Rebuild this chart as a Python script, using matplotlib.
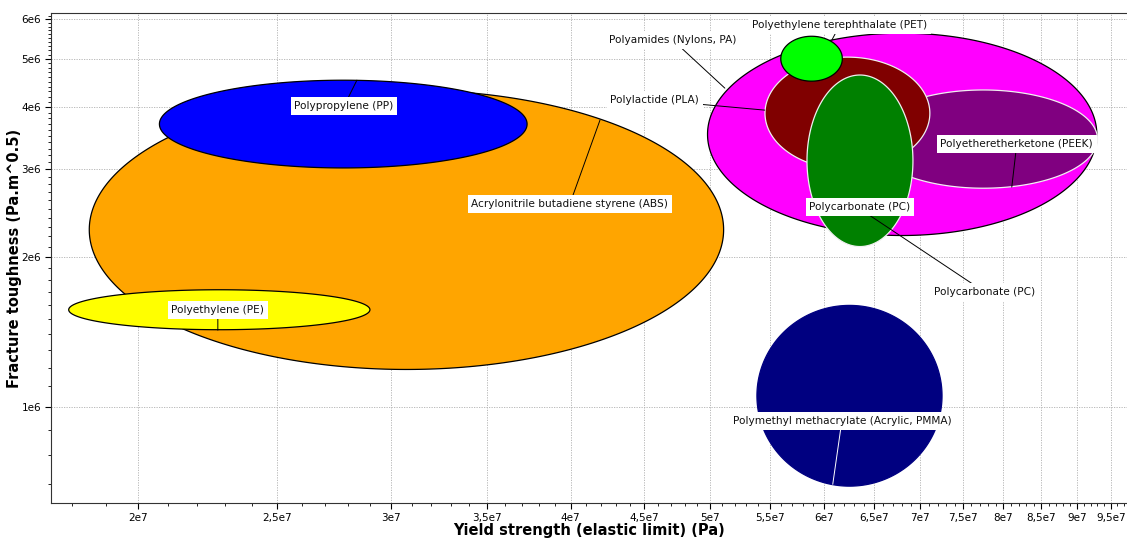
import numpy as np
import matplotlib
matplotlib.use('Agg')
import matplotlib.pyplot as plt
from matplotlib.ticker import FixedLocator, MultipleLocator, FuncFormatter, NullFormatter

# material property ranges (yield strength in Pa, fracture toughness in Pa.m^0.5)
materials = ['Acrylonitrile butadiene styrene (ABS)', 'Polypropylene (PP)', 'Polyethylene (PE)',
             'Polyamides (Nylons, PA)', 'Polyetheretherketone (PEEK)', 'Polylactide (PLA)',
             'Polycarbonate (PC)', 'Polyethylene terephthalate (PET)',
             'Polymethyl methacrylate (Acrylic, PMMA)']
yield_lo = [1.85e7, 2.07e7, 1.79e7, 4.98e7, 6.45e7, 5.46e7, 5.84e7, 5.60e7, 5.39e7]
yield_hi = [5.11e7, 3.73e7, 2.90e7, 9.29e7, 9.30e7, 7.11e7, 6.92e7, 6.18e7, 7.25e7]
tough_lo = [1.19e6, 3.02e6, 1.43e6, 2.21e6, 2.75e6, 3.00e6, 2.10e6, 4.51e6, 6.94e5]
tough_hi = [4.33e6, 4.53e6, 1.72e6, 5.63e6, 4.33e6, 5.04e6, 4.64e6, 5.55e6, 1.60e6]

x_ticks = [2e7, 2.5e7, 3e7, 3.5e7, 4e7, 4.5e7, 5e7, 5.5e7, 6e7, 6.5e7, 7e7, 7.5e7, 8e7, 8.5e7, 9e7, 9.5e7]
y_ticks = [1e6, 2e6, 3e6, 4e6, 5e6, 6e6]

# styles
fill_colors = ['#ffa500', '#0000ff', '#ffff00', '#ff00ff', '#800080', '#800000', '#008000', '#00ff00', '#000080']
edge_colors = ['black', 'black', 'black', 'black', '#f0f0f0', '#f0f0f0', '#f0f0f0', 'black', '#000080']

# label placement: (text, label position, anchor on ellipse or None, line colour)
labels = [
    ('Polypropylene (PP)', (2.782e7, 4.018e6), (2.84e7, 4.53e6), 'black'),
    ('Acrylonitrile butadiene styrene (ABS)', (3.994e7, 2.555e6), (4.192e7, 3.767e6), 'black'),
    ('Polyethylene (PE)', (2.273e7, 1.565e6), (2.273e7, 1.427e6), 'black'),
    ('Polyethylene terephthalate (PET)', (6.155e7, 5.844e6), (6.077e7, 5.452e6), 'black'),
    ('Polyamides (Nylons, PA)', (4.711e7, 5.452e6), (5.12e7, 4.367e6), 'black'),
    ('Polylactide (PLA)', (4.577e7, 4.131e6), (5.458e7, 3.945e6), 'black'),
    ('Polyetheretherketone (PEEK)', (8.172e7, 3.372e6), (8.107e7, 2.764e6), 'black'),
    ('Polycarbonate (PC)', (7.765e7, 1.701e6), (6.437e7, 2.44e6), 'black'),
    ('Polycarbonate (PC)', (6.356e7, 2.52e6), None, 'black'),
    ('Polymethyl methacrylate (Acrylic, PMMA)', (6.175e7, 9.374e5), (6.086e7, 7.0e5), 'white'),
]


def sci_fmt(v, pos):
    exp = int(np.floor(np.log10(v) + 1e-9))
    m = v / 10 ** exp
    s = ('%g' % round(m, 3)).replace('.', ',')
    return '%se%d' % (s, exp)


fig = plt.figure(figsize=(11.27, 5.4), dpi=100)
ax = fig.add_axes([51 / 1127, 37 / 540, 1 - 51 / 1127, (503 - 13) / 540])
ax.set_xscale('log')
ax.set_yscale('log')
ax.set_xlim(1.74e7, 9.75e7)
ax.set_ylim(6.42e5, 6.18e6)

t = np.linspace(0, 2 * np.pi, 400)
for i in range(len(materials)):
    cx = (np.log10(yield_lo[i]) + np.log10(yield_hi[i])) / 2
    rx = (np.log10(yield_hi[i]) - np.log10(yield_lo[i])) / 2
    cy = (np.log10(tough_lo[i]) + np.log10(tough_hi[i])) / 2
    ry = (np.log10(tough_hi[i]) - np.log10(tough_lo[i])) / 2
    ax.fill(10 ** (cx + rx * np.cos(t)), 10 ** (cy + ry * np.sin(t)),
            facecolor=fill_colors[i], edgecolor=edge_colors[i], lw=0.9, zorder=2 + i * 0.01)

for text, pos, anchor, lc in labels:
    box = dict(boxstyle='square,pad=0.35', fc='white', ec='none')
    if anchor is None:
        ax.text(pos[0], pos[1], text, ha='center', va='center', fontsize=7.6,
                color='#111111', bbox=box, zorder=6)
    else:
        ax.annotate(text, xy=anchor, xytext=pos, ha='center', va='center', fontsize=7.6,
                    color='#111111', bbox=box, zorder=5,
                    arrowprops=dict(arrowstyle='-', color=lc, lw=0.7, shrinkA=0, shrinkB=0))

ax.xaxis.set_major_locator(FixedLocator(x_ticks))
ax.xaxis.set_major_formatter(FuncFormatter(sci_fmt))
ax.xaxis.set_minor_locator(MultipleLocator(1e6))
ax.xaxis.set_minor_formatter(NullFormatter())
ax.yaxis.set_major_locator(FixedLocator(y_ticks))
ax.yaxis.set_major_formatter(FuncFormatter(sci_fmt))
ax.yaxis.set_minor_locator(MultipleLocator(1e5))
ax.yaxis.set_minor_formatter(NullFormatter())

ax.tick_params(which='major', length=4, width=0.8, labelsize=7.5, pad=3)
ax.tick_params(which='minor', length=2.5, width=0.6)
ax.grid(True, which='major', color='#b0b0b0', linestyle=(0, (1.5, 1.5)), lw=0.6)
ax.set_axisbelow(True)
ax.spines['right'].set_visible(False)
for s in ['left', 'bottom', 'top']:
    ax.spines[s].set_color('#333333')

ax.set_xlabel('Yield strength (elastic limit) (Pa)', fontsize=10.5, fontweight='bold', labelpad=0)
ax.set_ylabel('Fracture toughness (Pa.m^0.5)', fontsize=10.5, fontweight='bold', labelpad=0)

fig.savefig('out.png', dpi=100)
